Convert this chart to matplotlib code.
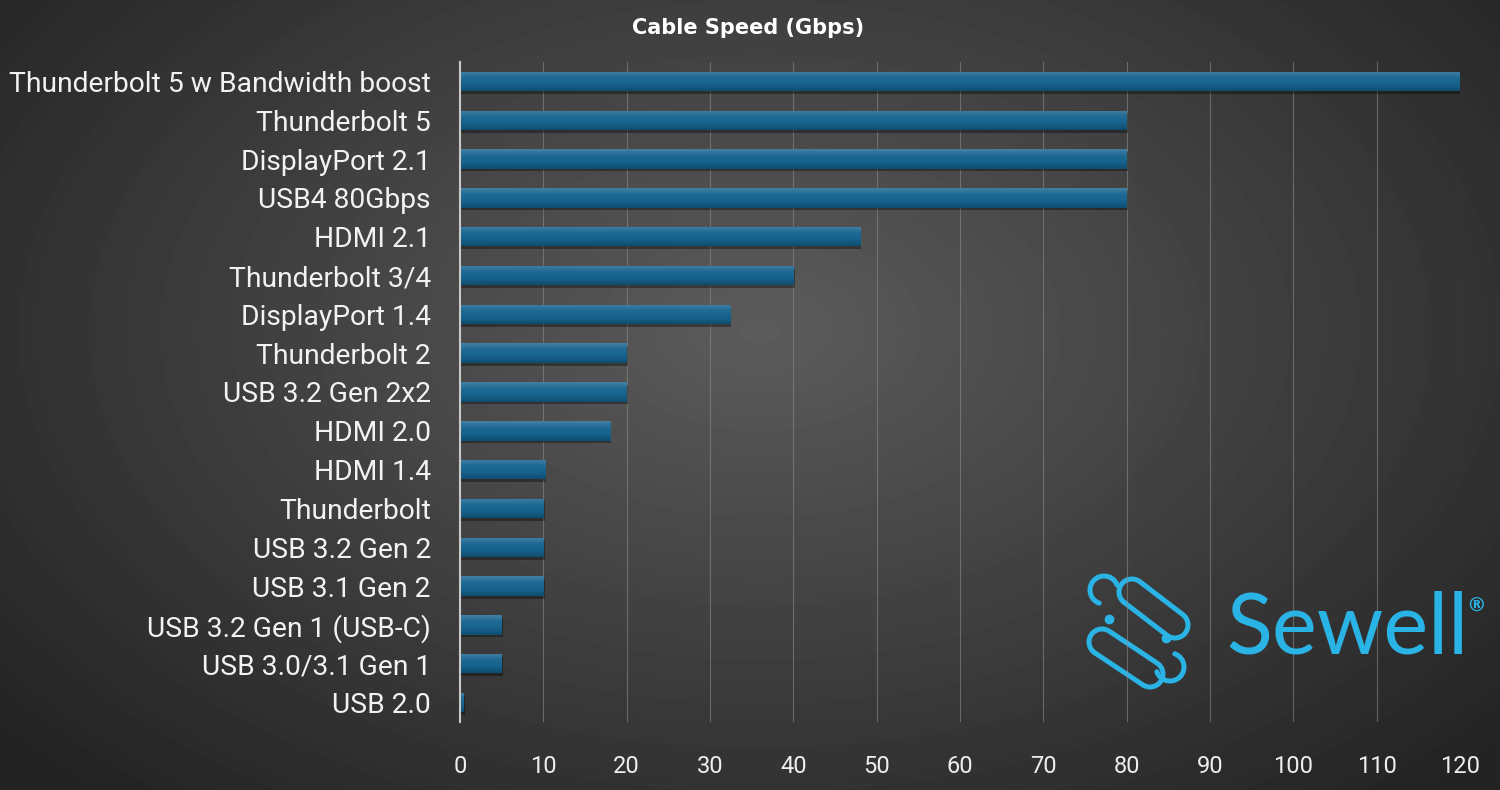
import numpy as np
import matplotlib
matplotlib.use("Agg")
import matplotlib.pyplot as plt

labels = ["Thunderbolt 5 w Bandwidth boost", "Thunderbolt 5", "DisplayPort 2.1",
          "USB4 80Gbps", "HDMI 2.1", "Thunderbolt 3/4", "DisplayPort 1.4",
          "Thunderbolt 2", "USB 3.2 Gen 2x2", "HDMI 2.0", "HDMI 1.4",
          "Thunderbolt", "USB 3.2 Gen 2", "USB 3.1 Gen 2", "USB 3.2 Gen 1 (USB-C)",
          "USB 3.0/3.1 Gen 1", "USB 2.0"]
speeds = [120, 80, 80, 80, 48, 40, 32.4, 20, 20, 18, 10.2, 10, 10, 10, 5, 5, 0.48]
ticks = list(range(0, 121, 10))

FONT = "Roboto"
LOGO = "#2ab4e6"
fig = plt.figure(figsize=(15, 7.9), dpi=100)

# radial gradient background
bg = fig.add_axes([0, 0, 1, 1], zorder=-10)
yy, xx = np.mgrid[0:790, 0:1500]
r = np.sqrt(((xx - 760) / 900) ** 2 + ((yy - 330) / 560) ** 2)
shade = np.clip(0.36 - 0.2 * r, 0.14, 0.36)
bg.imshow(shade, cmap="gray", vmin=0, vmax=1, aspect="auto", extent=[0, 1500, 790, 0])
bg.set_xlim(0, 1500)
bg.set_ylim(790, 0)
bg.axis("off")

ax = fig.add_axes([460 / 1500, 1 - 722 / 790, 1000 / 1500, (722 - 62) / 790])
ax.patch.set_alpha(0)
y = np.arange(len(labels))
bars = ax.barh(y, speeds, height=0.5, color="#1c6891", zorder=3)

# vertical gradient on each bar + soft shadow
grad = np.linspace(0, 1, 50).reshape(-1, 1)
cmap = matplotlib.colors.LinearSegmentedColormap.from_list(
    "bar", ["#447fa3", "#1d6a94", "#16628c", "#0f4c70"])
for b in bars:
    x0, y0, w, h = b.get_x(), b.get_y(), b.get_width(), b.get_height()
    ax.barh(y0 + h / 2 + 0.07, w, height=h, left=x0 + 0.15, color="black",
            alpha=0.35, zorder=2)
    im = ax.imshow(grad, cmap=cmap, aspect="auto", extent=[x0, x0 + w, y0 + h, y0],
                   zorder=4)
    im.set_clip_path(b)
ax.set_xlim(0, 120)
ax.set_ylim(len(labels) - 0.5, -0.5)

ax.set_xticks(ticks)
ax.set_yticks(y)
ax.set_yticklabels(labels, fontsize=20.3, color="#f2f2f2", family=FONT)
ax.set_xticklabels([str(t) for t in ticks], fontsize=17, color="#eeeeee", family=FONT)
ax.tick_params(length=0)
ax.tick_params(axis="x", pad=24)
ax.tick_params(axis="y", pad=21)
ax.grid(axis="x", color="#8a8a8a", linewidth=0.8, alpha=0.6, zorder=0)
for s in ["top", "right", "bottom"]:
    ax.spines[s].set_visible(False)
ax.spines["left"].set_color("#c8c8c8")
ax.spines["left"].set_linewidth(1.5)
ax.spines["left"].set_zorder(5)

fig.text(748 / 1500, 1 - 28 / 790, "Cable Speed (Gbps)", ha="center", va="center",
         fontsize=15, fontweight="bold", color="white", family="DejaVu Sans")

# Sewell logo, drawn in pixel coordinates on the background axes
fig.text(1226 / 1500, 1 - 630 / 790, "Sewell", ha="left", va="center", fontsize=61,
         color=LOGO, family="Lato", fontweight="normal")
fig.text(1466 / 1500, 1 - 606 / 790, "®", ha="left", va="center", fontsize=14,
         color=LOGO, family="DejaVu Sans", fontweight="bold")


def stadium(c1, c2, rad):
    c1, c2 = np.array(c1, float), np.array(c2, float)
    d = c2 - c1
    ang = np.arctan2(d[1], d[0])
    t1 = np.linspace(ang + np.pi / 2, ang + 3 * np.pi / 2, 30)
    t2 = np.linspace(ang - np.pi / 2, ang + np.pi / 2, 30)
    p1 = np.c_[c1[0] + rad * np.cos(t1), c1[1] + rad * np.sin(t1)]
    p2 = np.c_[c2[0] + rad * np.cos(t2), c2[1] + rad * np.sin(t2)]
    p = np.vstack([p1, p2, p1[:1]])
    return p[:, 0], p[:, 1]


def arc(cx, cy, rad, a0, a1):
    t = np.radians(np.linspace(a0, a1, 40))
    return cx + rad * np.cos(t), cy + rad * np.sin(t)


kw = dict(color=LOGO, linewidth=3.6, solid_capstyle="round", zorder=5)
bg.plot(*stadium((1132, 592), (1175, 625), 13), **kw)
bg.plot(*stadium((1102, 642), (1150, 674), 13), **kw)
# hooks
hx, hy = arc(1104, 590, 14, 110, 340)
bg.plot(hx, hy, **kw)
hx, hy = arc(1170, 667, 14, -70, 160)
bg.plot(hx, hy, **kw)
bg.plot([1109], [619], "o", color=LOGO, markersize=6, zorder=6)
bg.plot([1166], [638], "o", color=LOGO, markersize=6, zorder=6)

fig.savefig("out.png", dpi=100)
